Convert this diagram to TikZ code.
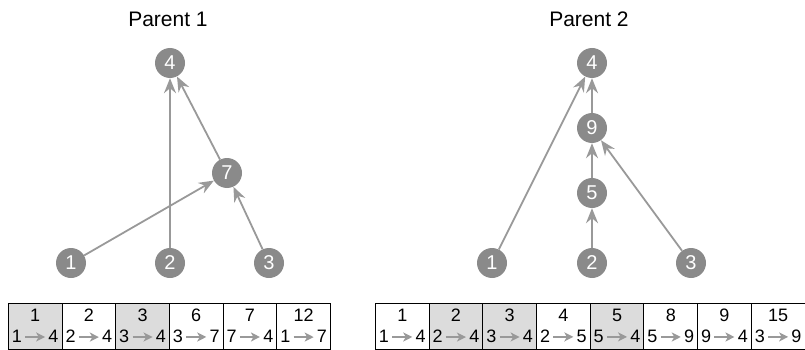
\documentclass[tikz,border=0pt]{standalone}
\usepackage{fontspec}
\setmainfont{Liberation Sans}
\usetikzlibrary{arrows.meta}
\definecolor{nodegray}{HTML}{8A8A8A}
\definecolor{edgegray}{HTML}{999999}
\definecolor{cellgray}{HTML}{DCDCDC}

\newcommand{\lnk}[2]{#1\kern2.5pt\tikz[baseline=-0.6ex]\draw[edgegray, line width=1.6pt, -{Stealth[length=9pt,width=9pt,inset=2.5pt]}] (0pt,0pt) -- (20pt,0pt);\kern2.5pt#2}

\tikzset{
  gnode/.style={circle, fill=nodegray, text=white, minimum size=30pt, inner sep=0pt,
    font=\fontsize{20}{20}\selectfont},
  edge/.style={edgegray, line width=1.8pt, -{Stealth[length=15pt,width=12pt,inset=5pt]}},
  cell/.style={draw, line width=0.9pt, minimum width=53.7pt, minimum height=46pt,
    inner sep=0pt, align=center, font=\fontsize{18}{21}\selectfont},
  title/.style={font=\fontsize{21}{24}\selectfont}
}

\begin{document}
\begin{tikzpicture}[x=1pt, y=-1pt]
\useasboundingbox (0,0) rectangle (805,350);

% parent 1
\node[title] (t1) at (168,19) {Parent 1};
\node[gnode] (a4) at (170,63) {4};
\node[gnode] (a7) at (227,173) {7};
\node[gnode] (a1) at (71,263) {1};
\node[gnode] (a2) at (170,263) {2};
\node[gnode] (a3) at (269,263) {3};
\draw[edge] (a1) -- (a7);
\draw[edge] (a2) -- (a4);
\draw[edge] (a7) -- (a4);
\draw[edge] (a3) -- (a7);

% parent 2
\node[title] (t2) at (589,19) {Parent 2};
\node[gnode] (b4) at (592,63) {4};
\node[gnode] (b9) at (592,128) {9};
\node[gnode] (b5) at (592,193) {5};
\node[gnode] (b1) at (492,263) {1};
\node[gnode] (b2) at (592,263) {2};
\node[gnode] (b3) at (691,263) {3};
\draw[edge] (b1) -- (b4);
\draw[edge] (b9) -- (b4);
\draw[edge] (b5) -- (b9);
\draw[edge] (b2) -- (b5);
\draw[edge] (b3) -- (b9);

% tables
\foreach \i/\n/\a/\b/\s in {1/1/1/4/cellgray, 2/2/2/4/white, 3/3/3/4/cellgray,
    4/6/3/7/white, 5/7/7/4/white, 6/12/1/7/white}
  \node[cell, fill=\s] (p1c\i) at ({8.3+53.7*(\i-0.5)},326) {\n\\\lnk{\a}{\b}};
\foreach \i/\n/\a/\b/\s in {1/1/1/4/white, 2/2/2/4/cellgray, 3/3/3/4/cellgray,
    4/4/2/5/white, 5/5/5/4/cellgray, 6/8/5/9/white, 7/9/9/4/white, 8/15/3/9/white}
  \node[cell, fill=\s] (p2c\i) at ({375.4+53.7*(\i-0.5)},326) {\n\\\lnk{\a}{\b}};
\end{tikzpicture}
\end{document}
